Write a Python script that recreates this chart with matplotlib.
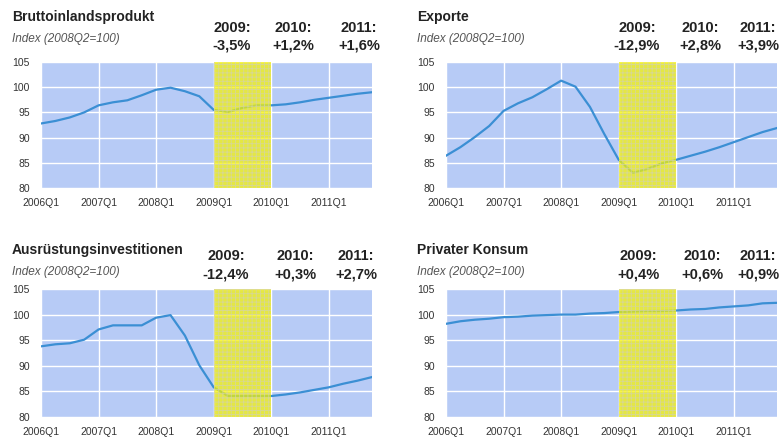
import numpy as np
import matplotlib.pyplot as plt

plt.rcParams['font.family'] = ['Liberation Sans', 'DejaVu Sans']
plt.rcParams['hatch.linewidth'] = 0.6

# Quartale 2006Q1 .. 2011Q4
quarters = [f"{y}Q{q}" for y in range(2006, 2012) for q in range(1, 5)]
year_labels = ["2006Q1", "2007Q1", "2008Q1", "2009Q1", "2010Q1", "2011Q1"]

bip = [92.8, 93.3, 94.0, 95.0, 96.4, 97.0, 97.4, 98.4, 99.5, 99.9, 99.2, 98.2,
       95.5, 95.1, 95.9, 96.4, 96.4, 96.6, 97.0, 97.5, 97.9, 98.3, 98.7, 99.0]
exporte = [86.4, 88.1, 90.1, 92.3, 95.3, 96.8, 98.0, 99.6, 101.3, 100.1, 96.1, 90.7,
           85.6, 83.0, 83.8, 84.9, 85.6, 86.4, 87.2, 88.1, 89.1, 90.1, 91.1, 91.9]
ausruestung = [93.8, 94.2, 94.4, 95.1, 97.1, 97.9, 97.9, 97.9, 99.4, 99.9, 95.9, 90.1,
               85.8, 84.1, 84.1, 84.1, 84.1, 84.4, 84.8, 85.3, 85.8, 86.5, 87.1, 87.8]
konsum = [98.2, 98.7, 99.0, 99.2, 99.5, 99.6, 99.8, 99.9, 100.0, 100.0, 100.2, 100.3,
          100.5, 100.6, 100.7, 100.7, 100.8, 101.0, 101.1, 101.4, 101.6, 101.8, 102.2, 102.3]

titles = ["Bruttoinlandsprodukt", "Exporte", "Ausrüstungsinvestitionen", "Privater Konsum"]
series = [bip, exporte, ausruestung, konsum]
growth = [["-3,5%", "+1,2%", "+1,6%"],
          ["-12,9%", "+2,8%", "+3,9%"],
          ["-12,4%", "+0,3%", "+2,7%"],
          ["+0,4%", "+0,6%", "+0,9%"]]
growth_years = ["2009:", "2010:", "2011:"]

W, H = 782, 444
fig = plt.figure(figsize=(W / 100, H / 100), dpi=100)

# Layout in Pixeln: (links, oben, breite, hoehe) der Achsen
boxes = [(41, 62, 331, 126), (446, 62, 331, 126),
         (41, 289, 331, 128), (446, 289, 331, 128)]
title_pos = [(12, 17), (417, 17), (12, 250), (417, 250)]
growth_x = [[232, 293, 359], [637, 700, 758], [226, 295, 356], [638, 702, 758]]
growth_y = [(28, 45), (28, 45), (256, 274), (256, 274)]

x = np.arange(len(quarters))
year_pos = [quarters.index(l) for l in year_labels]

for k in range(4):
    l, t, w, h = boxes[k]
    ax = fig.add_axes([l / W, 1 - (t + h) / H, w / W, h / H])
    ax.set_facecolor('#b7cbf6')
    ax.plot(x, series[k], color='#3b8fd4', lw=1.6, zorder=2)
    ax.axvspan(quarters.index("2009Q1"), quarters.index("2010Q1"),
               facecolor='#f6f200', edgecolor='#d2d2b4', hatch='++++',
               lw=0, alpha=0.72, zorder=3)
    ax.set_xlim(0, len(quarters) - 1)
    ax.set_ylim(80, 105)
    ax.set_yticks([80, 85, 90, 95, 100, 105])
    ax.set_xticks(year_pos)
    ax.set_xticklabels(year_labels)
    ax.grid(True, color='white', lw=1.0, zorder=1)
    ax.set_axisbelow(True)
    for s in ax.spines.values():
        s.set_visible(False)
    ax.tick_params(length=0, labelsize=7.5, colors='#333333', pad=7)
    ax.tick_params(axis='y', pad=8)

    tx, ty = title_pos[k]
    fig.text(tx / W, 1 - ty / H, titles[k], fontsize=10, fontweight='bold',
             color='#222222', va='center', ha='left')
    fig.text(tx / W, 1 - (ty + 22) / H, "Index (2008Q2=100)", fontsize=8.5,
             style='italic', color='#555555', va='center', ha='left')
    y1, y2 = growth_y[k]
    for j in range(3):
        gx = growth_x[k][j]
        fig.text(gx / W, 1 - y1 / H, growth_years[j], fontsize=10.5,
                 fontweight='bold', color='#222222', ha='center', va='center')
        fig.text(gx / W, 1 - y2 / H, growth[k][j], fontsize=10.5,
                 fontweight='bold', color='#222222', ha='center', va='center')

fig.savefig('out.png', dpi=100)
